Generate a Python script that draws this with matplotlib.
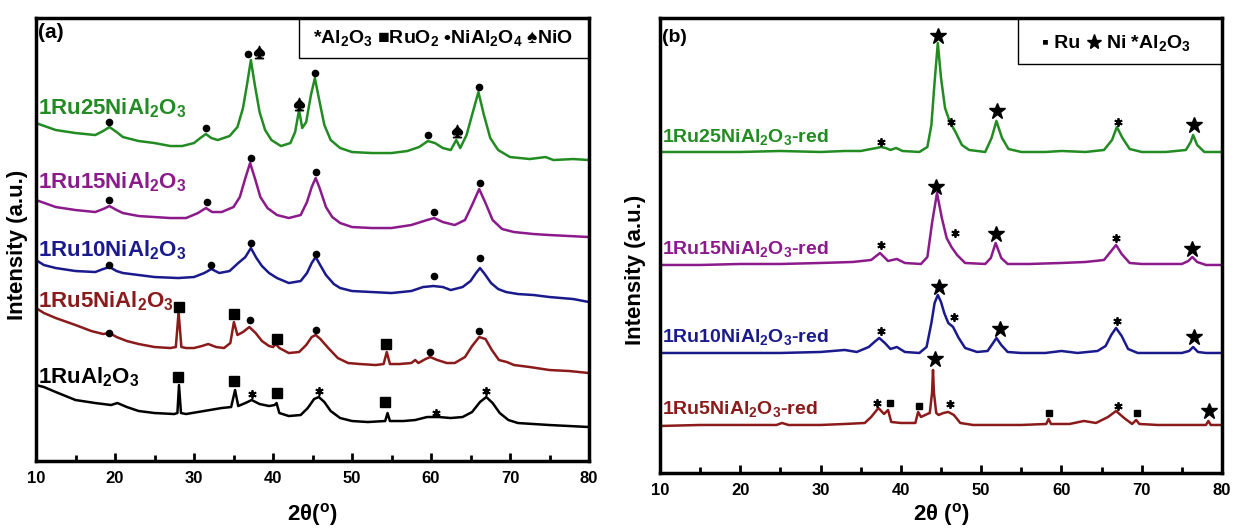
import matplotlib.pyplot as plt
from matplotlib.patches import Rectangle

plt.rcParams['font.family'] = ['Liberation Sans', 'DejaVu Sans']
plt.rcParams['font.weight'] = 'bold'
plt.rcParams['axes.labelweight'] = 'bold'
plt.rcParams['mathtext.fontset'] = 'custom'
plt.rcParams['mathtext.rm'] = 'Liberation Sans:bold'
plt.rcParams['mathtext.it'] = 'Liberation Sans:bold'
plt.rcParams['mathtext.bf'] = 'Liberation Sans:bold'

GREEN, PURPLE, BLUE, RED, BLACK = '#228B22', '#8B1A8B', '#1A1A8C', '#8B1A1A', 'black'

# ---- panel (a): calcined samples, (2theta, intensity a.u. incl. offset) ----
a_25 = [(10, 338), (12.5, 331), (15, 328), (17.5, 326), (18.5, 330), (19.3, 334), (20.2, 329), (21, 324),
        (23, 320), (25, 318), (27, 315), (28.5, 315), (30, 318), (30.8, 323), (31.5, 327), (32.2, 323),
        (33, 321), (34.5, 325), (35.5, 334), (36.2, 353), (36.7, 376), (37.2, 401), (37.7, 376), (38.3, 349),
        (39, 331), (39.8, 321), (41, 315), (42.2, 318), (42.8, 329), (43.3, 351), (43.7, 333), (44.2, 339),
        (44.8, 366), (45.3, 383), (45.8, 363), (46.5, 336), (47.3, 321), (48.5, 313), (50, 309), (52.5, 308),
        (55, 308), (57, 310), (58.5, 314), (59.6, 320), (60.5, 318), (61.5, 313), (62.5, 311), (63.2, 321),
        (63.7, 313), (64.5, 326), (65.3, 349), (66, 369), (66.7, 346), (67.5, 323), (68.5, 311), (70, 304),
        (72.5, 302), (74.5, 304), (75.5, 301), (78, 302), (80, 301)]
a_15 = [(10, 261), (12.5, 254), (15, 251), (17.5, 249), (18.5, 252), (19.3, 255), (20.2, 251), (21, 248),
        (23, 245), (25, 244), (27, 243), (29, 243), (30.5, 248), (31.5, 253), (32.3, 249), (33.5, 249),
        (35, 254), (35.8, 264), (36.5, 283), (37.1, 298), (37.7, 283), (38.4, 264), (39.3, 253), (40.5, 246),
        (42, 243), (43.5, 246), (44.3, 259), (44.9, 274), (45.4, 283), (45.9, 273), (46.7, 254), (47.5, 244),
        (48.5, 238), (50, 234), (52.5, 233), (55, 233), (57.5, 236), (59.5, 241), (60.4, 243), (61.5, 239),
        (63, 236), (64.3, 241), (65.2, 256), (66.1, 272), (66.9, 258), (67.8, 241), (69, 232), (70.5, 229),
        (73, 227), (75, 226), (77.5, 225), (80, 224)]
a_10 = [(10, 201), (11, 196), (12.5, 193), (15, 190), (17.5, 189), (18.5, 192), (19.3, 194), (20.2, 190),
        (21, 188), (23, 186), (25, 184), (28, 183), (30, 184), (31.3, 188), (32.2, 192), (33.2, 188),
        (34.5, 190), (35.6, 198), (36.5, 204), (37.2, 213), (37.9, 203), (38.6, 195), (39.5, 188), (40.5, 183),
        (42, 178), (43.5, 180), (44.3, 188), (44.9, 198), (45.4, 204), (45.9, 197), (46.7, 186), (47.7, 177),
        (48.5, 173), (50, 170), (52.5, 169), (55, 168), (57.5, 170), (59, 174), (60.3, 175), (61.5, 174),
        (62.5, 171), (64, 174), (65, 180), (65.7, 188), (66.2, 193), (66.8, 187), (67.6, 178), (68.5, 172),
        (69.5, 169), (71, 167), (73, 166), (75, 164), (78, 162), (80, 159)]
a_5 = [(10, 153), (11, 148), (12.5, 143), (15, 136), (17, 130), (18.5, 127), (19.3, 128), (20.2, 124),
       (21.5, 120), (23, 117), (25, 114), (27, 113), (27.7, 114), (28.05, 149), (28.4, 114), (29, 113),
       (30, 113), (31, 115), (31.8, 117), (32.8, 114), (33.8, 113), (34.6, 118), (35.05, 139), (35.5, 126),
       (36.2, 129), (37, 134), (37.8, 128), (38.6, 120), (39.5, 115), (40, 114), (40.35, 117), (40.8, 113),
       (42, 108), (43.3, 109), (44.2, 116), (44.9, 124), (45.4, 126), (46, 122), (47, 113), (48.2, 103),
       (49.5, 98), (51, 97), (53, 96), (54, 97), (54.4, 109), (54.8, 97), (56, 97), (57.5, 98), (58, 101),
       (58.4, 98), (59.3, 102), (59.9, 104), (60.8, 101), (62, 98), (63, 98), (64.3, 104), (65.2, 115),
       (66.1, 124), (66.9, 122), (67.7, 111), (68.6, 101), (69.6, 99), (70.5, 96), (72.5, 94), (75, 91),
       (77.5, 90), (80, 88)]
a_0 = [(10, 76), (11, 74), (12.5, 69), (15, 61), (17.5, 58), (19.5, 56), (20.3, 58), (21.5, 54), (23, 50),
       (25, 48), (27.5, 47), (27.9, 48), (28.1, 76), (28.35, 48), (29, 47), (30.5, 49), (32, 51), (33.5, 53),
       (34.7, 54), (35.2, 71), (35.6, 55), (36.5, 58), (37.3, 61), (38.3, 57), (39.5, 55), (40.2, 56),
       (40.45, 58), (40.8, 48), (42, 45), (43.5, 46), (44.4, 53), (45.2, 62), (45.8, 64), (46.5, 59),
       (47.3, 50), (48.5, 43), (50, 40), (52, 39), (54.2, 40), (54.5, 48), (54.8, 40), (56.5, 40), (58, 41),
       (59.5, 44), (61, 44), (62.5, 43), (64, 44), (65.2, 49), (66.2, 59), (67, 64), (67.8, 58), (68.7, 48),
       (69.8, 41), (71, 38), (73, 37), (75, 36), (77.5, 35), (80, 34)]

a_names = ['1Ru25NiAl$_2$O$_3$', '1Ru15NiAl$_2$O$_3$', '1Ru10NiAl$_2$O$_3$',
           '1Ru5NiAl$_2$O$_3$', '1RuAl$_2$O$_3$']
a_label_y = [347, 273, 205, 154, 78]

a_dots = [(19.3, 339), (31.5, 333), (36.8, 407), (45.3, 388), (59.6, 326), (66.1, 374),
          (19.3, 261), (31.6, 259), (37.2, 303), (45.4, 289), (60.4, 249), (66.2, 278),
          (19.3, 196), (32.2, 196), (37.2, 218), (45.4, 207), (60.4, 185), (66.2, 203),
          (19.3, 128), (37.1, 141), (45.4, 131), (59.9, 109), (66.1, 130)]
a_squares = [(28.05, 154), (35.0, 147), (40.5, 122), (54.3, 117),
             (28.0, 84), (35.1, 80), (40.5, 68), (54.2, 59)]
a_asterisks = [(37.3, 67), (45.8, 70), (60.6, 48), (66.9, 70)]
a_spades = [(38.2, 409), (43.3, 357), (63.3, 330)]

# ---- panel (b): reduced samples ----
b_25 = [(10, 321), (15, 321), (20, 321), (25, 322), (30, 321), (33, 322), (35, 322), (36.3, 324), (37, 325),
        (37.5, 326), (38.1, 325), (38.7, 323), (39.4, 325), (40.2, 322), (42.3, 321), (43.3, 326),
        (43.8, 348), (44.2, 391), (44.6, 430), (45, 395), (45.5, 365), (46.1, 351), (46.8, 341), (47.6, 328),
        (48.5, 323), (50.5, 321), (51.3, 335), (51.9, 352), (52.6, 335), (53.4, 324), (55, 321), (58, 321),
        (60, 322), (63, 321), (65.3, 323), (66.3, 333), (66.9, 346), (67.6, 335), (68.5, 324), (70, 321),
        (73, 321), (75.5, 323), (76.1, 331), (76.4, 338), (76.9, 328), (77.8, 321), (80, 321)]
b_15 = [(10, 208), (15, 208), (20, 209), (25, 209), (30, 210), (34, 211), (36.3, 213), (37.4, 220),
        (38.4, 212), (39.5, 214), (40.5, 210), (42.5, 209), (43.3, 216), (43.9, 251), (44.5, 280),
        (45.1, 255), (45.7, 235), (46.3, 226), (47, 218), (48, 210), (50.5, 209), (51.2, 215), (51.8, 230),
        (52.5, 215), (53.3, 209), (56, 209), (60, 210), (63, 211), (65.3, 213), (66.1, 221), (66.8, 228),
        (67.5, 219), (68.5, 210), (70, 209), (75, 209), (75.8, 212), (76.3, 216), (76.9, 211), (78, 208),
        (80, 208)]
b_10 = [(10, 120), (15, 120), (20, 120), (25, 120), (30, 121), (33, 123), (34.5, 121), (36, 126),
        (36.7, 131), (37.3, 135), (38, 130), (38.7, 124), (39.5, 126), (40.5, 121), (42.3, 120), (43.2, 126),
        (43.8, 150), (44.2, 170), (44.6, 178), (45, 171), (45.4, 160), (45.9, 150), (46.5, 146), (47.2, 135),
        (48, 125), (49.5, 121), (50.8, 122), (51.4, 129), (51.9, 135), (52.5, 128), (53.3, 121), (55, 120),
        (58, 120), (60, 122), (62, 120), (64.5, 122), (65.5, 127), (66.2, 138), (66.8, 145), (67.5, 137),
        (68.3, 124), (69.5, 120), (72, 120), (75, 120), (75.9, 122), (76.4, 126), (77, 121), (78, 120),
        (80, 120)]
b_5 = [(10, 47), (15, 48), (20, 48), (24.5, 48), (25.2, 50), (26, 48), (30, 48), (33, 49), (35.5, 50),
       (36.3, 56), (37.2, 65), (37.9, 59), (38.4, 63), (38.8, 51), (40, 50), (41.8, 50), (42.15, 61),
       (42.5, 56), (43.3, 59), (43.6, 60), (43.88, 80), (44.0, 103), (44.12, 80), (44.4, 60), (44.7, 58),
       (45.3, 60), (45.9, 61), (46.6, 58), (47.4, 50), (49, 48), (52, 48), (55, 48), (58.1, 49), (58.4, 54),
       (58.7, 49), (61, 49), (62.8, 52), (64.3, 50), (65.8, 56), (66.8, 62), (67.8, 55), (68.8, 49),
       (69.3, 53), (69.7, 49), (72, 48), (75, 48), (78, 48), (78.3, 52), (78.6, 48), (80, 48)]

b_names = ['1Ru25NiAl$_2$O$_3$-red', '1Ru15NiAl$_2$O$_3$-red', '1Ru10NiAl$_2$O$_3$-red',
           '1Ru5NiAl$_2$O$_3$-red']
b_label_y = [331, 219, 131, 59]

b_stars = [(44.6, 437), (52.0, 362), (76.5, 348), (44.4, 286), (51.8, 239), (76.2, 224),
           (44.7, 186), (52.3, 144), (76.5, 136), (44.3, 114), (78.4, 62)]
b_asterisks = [(37.5, 331), (46.3, 351), (67.0, 351), (37.5, 228), (46.7, 240), (66.8, 235),
               (37.5, 142), (46.6, 156), (66.9, 152), (37.0, 70), (46.1, 69), (67.0, 67)]
b_squares = [(38.6, 70), (42.3, 67), (58.4, 60), (69.4, 60)]


def xy(pts):
    return [p[0] for p in pts], [p[1] for p in pts]


def style(ax, top):
    ax.set_xlim(10, 80)
    ax.set_ylim(0, top)
    ax.set_xticks(range(10, 81, 10))
    ax.set_xticks(range(15, 80, 10), minor=True)
    ax.tick_params(axis='x', which='major', direction='in', length=6, width=2, labelsize=12, pad=7)
    ax.tick_params(axis='x', which='minor', direction='in', length=4, width=2)
    ax.tick_params(axis='y', left=False, labelleft=False)
    for s in ax.spines.values():
        s.set_linewidth(2.5)


fig = plt.figure(figsize=(12.33, 5.29), dpi=100)
ax1 = fig.add_axes([0.0292, 0.1285, 0.4485, 0.8374])
ax2 = fig.add_axes([0.5353, 0.1059, 0.4558, 0.8601])

# panel (a)
for pts, c in zip([a_25, a_15, a_10, a_5, a_0], [GREEN, PURPLE, BLUE, RED, BLACK]):
    ax1.plot(*xy(pts), color=c, lw=1.8)
for name, yb, c in zip(a_names, a_label_y, [GREEN, PURPLE, BLUE, RED, BLACK]):
    ax1.text(0.003, yb, name, color=c, fontsize=16, va='baseline', ha='left',
             transform=ax1.get_yaxis_transform())
ax1.plot(*xy(a_dots), 'o', color='black', ms=4.5, ls='none')
ax1.plot(*xy(a_squares), 's', color='black', ms=7, ls='none')
ax1.plot(*xy(a_asterisks), marker=(6, 2, 0), color='black', ms=6, mew=1.3, ls='none')
ax1.plot(*xy(a_spades), marker=r'$\spadesuit$', color='black', ms=9, ls='none')
style(ax1, 443)
ax1.set_xlabel(r'2θ($^{\mathrm{o}}$)', fontsize=16)
ax1.xaxis.set_label_coords(0.5, -0.09)
ax1.set_ylabel('Intensity (a.u.)', fontsize=16)
ax1.yaxis.set_label_coords(-0.014, 0.488)
ax1.text(0.004, 0.968, '(a)', fontsize=15, va='center', ha='left', transform=ax1.transAxes)
ax1.add_patch(Rectangle((0.4756, 0.9097), 0.5244, 0.0903, transform=ax1.transAxes,
                        fill=False, lw=1, ec='black'))
ax1.text(0.736, 0.955, r'*Al$_2$O$_3$ ■RuO$_2$ •NiAl$_2$O$_4$ ♠NiO', fontsize=14,
         ha='center', va='center', transform=ax1.transAxes)

# panel (b)
for pts, c in zip([b_25, b_15, b_10, b_5], [GREEN, PURPLE, BLUE, RED]):
    ax2.plot(*xy(pts), color=c, lw=1.8)
for name, yb, c in zip(b_names, b_label_y, [GREEN, PURPLE, BLUE, RED]):
    ax2.text(0.003, yb, name, color=c, fontsize=14, va='baseline', ha='left',
             transform=ax2.get_yaxis_transform())
ax2.plot(*xy(b_stars), '*', color='black', ms=12, ls='none')
ax2.plot(*xy(b_asterisks), marker=(6, 2, 0), color='black', ms=6, mew=1.3, ls='none')
ax2.plot(*xy(b_squares), 's', color='black', ms=5, ls='none')
style(ax2, 455)
ax2.set_xlabel(r'2θ ($^{\mathrm{o}}$)', fontsize=16)
ax2.xaxis.set_label_coords(0.5, -0.062)
ax2.set_ylabel('Intensity (a.u.)', fontsize=16)
ax2.yaxis.set_label_coords(-0.025, 0.446)
ax2.text(0.004, 0.958, '(b)', fontsize=14, va='center', ha='left', transform=ax2.transAxes)
ax2.add_patch(Rectangle((0.637, 0.898), 0.363, 0.102, transform=ax2.transAxes,
                        fill=False, lw=1, ec='black'))
# legend of panel (b): text, star symbol, text
ax2.text(0.748, 0.945, '▪ Ru', fontsize=14, ha='right', va='center', transform=ax2.transAxes)
ax2.plot([0.772], [0.947], '*', color='black', ms=11, transform=ax2.transAxes)
ax2.text(0.793, 0.945, r'Ni *Al$_2$O$_3$', fontsize=14, ha='left', va='center', transform=ax2.transAxes)

fig.savefig('out.png', dpi=100)
